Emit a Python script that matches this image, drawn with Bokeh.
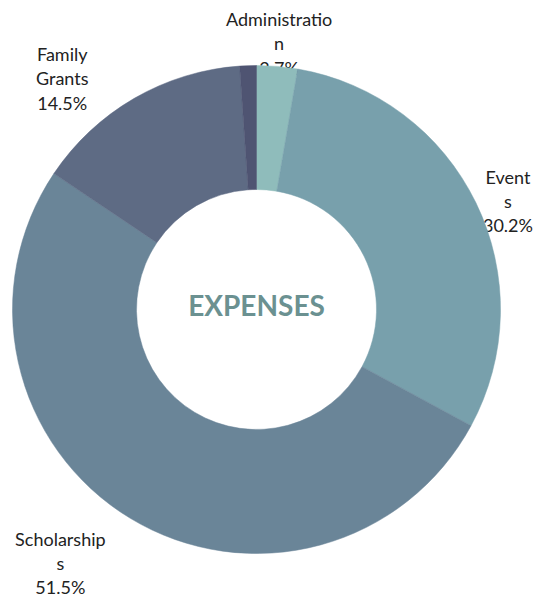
import math
from bokeh.plotting import figure
from bokeh.models import ColumnDataSource, Range1d
from bokeh.core.properties import value
from bokeh.embed import file_html
from bokeh.resources import INLINE

# Data
categories = ["Administration", "Events", "Scholarships", "Family Grants", "Other"]
percents = [2.7, 30.2, 51.5, 14.5, 1.1]
label_texts = ["Administratio\nn\n2.7%", "Event\ns\n30.2%", "Scholarship\ns\n51.5%", "Family\nGrants\n14.5%", ""]
colors = ["#8fbcbb", "#78a0ac", "#6a8598", "#5e6b84", "#4f5472"]

# Layout/style
W, H = 543, 597
cx, cy = 256, H - 309
r_out, r_in = 244, 120
label_r = [267, 274, 300, 290, 0]
label_dx = [0, 5, -41, -49, 0]
label_dy = [0, -11, 3, -20, 0]

total = sum(percents)
starts, ends, mids = [], [], []
acc = 0.0
for v in percents:
    a0 = math.pi / 2 - 2 * math.pi * acc / total
    acc += v
    a1 = math.pi / 2 - 2 * math.pi * acc / total
    starts.append(a0)
    ends.append(a1)
    mids.append((a0 + a1) / 2)

src = ColumnDataSource(dict(start=starts, end=ends, color=colors, cat=categories))

lx = [cx + r * math.cos(m) + dx for r, m, dx in zip(label_r, mids, label_dx)]
ly = [cy + r * math.sin(m) + dy for r, m, dy in zip(label_r, mids, label_dy)]
lsrc = ColumnDataSource(dict(x=lx, y=ly, t=label_texts))

p = figure(width=W, height=H, x_range=Range1d(0, W), y_range=Range1d(0, H),
           output_backend="svg", toolbar_location=None, min_border=0)
p.axis.visible = False
p.grid.visible = False
p.outline_line_color = None
p.background_fill_color = "white"

p.text(x="x", y="y", text="t", source=lsrc, text_font=value("Lato"),
       text_font_size="18px", text_color="#222222", text_align="center",
       text_baseline="middle", text_line_height=1.1)

p.annular_wedge(x=cx, y=cy, inner_radius=r_in, outer_radius=r_out,
                start_angle="start", end_angle="end", direction="clock",
                fill_color="color", line_color="color", line_width=0.5, source=src)

p.text(x=[cx], y=[cy + 5], text=["EXPENSES"], text_font=value("Lato"),
       text_font_size="28px", text_font_style="bold", text_color="#6b9191",
       text_align="center", text_baseline="middle")

open("out.html", "w").write(file_html(p, INLINE))
